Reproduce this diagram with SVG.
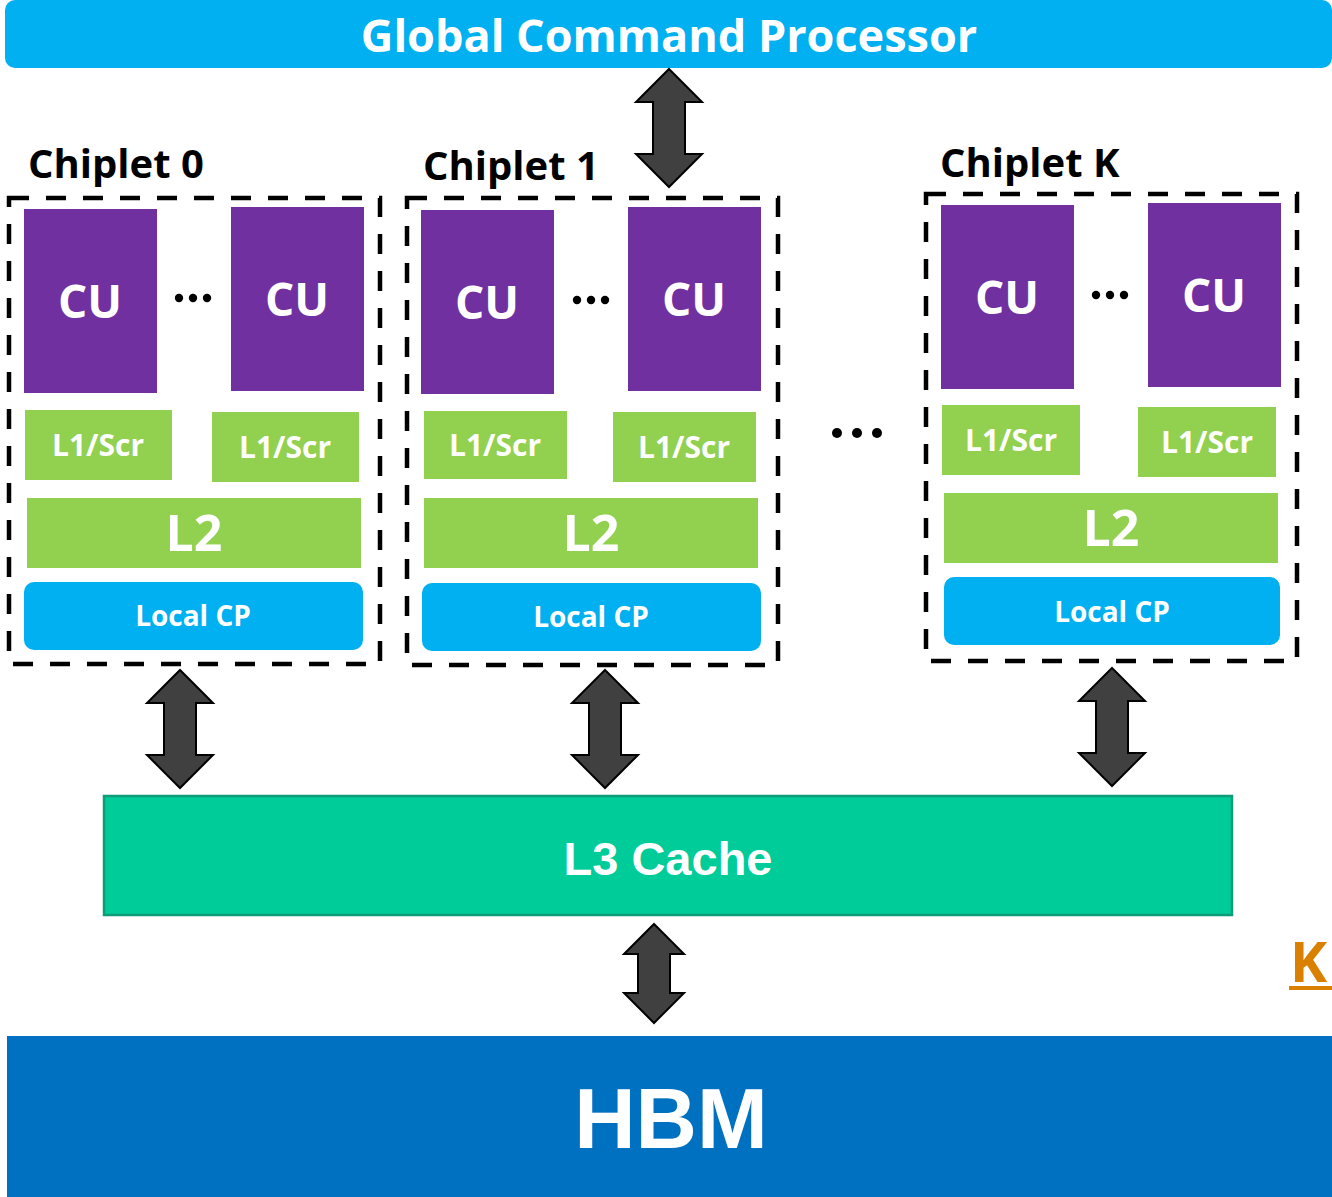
<svg xmlns="http://www.w3.org/2000/svg" width="1332" height="1197" viewBox="0 0 1332 1197">
<style>
text{font-family:"Open Sans","Noto Sans","Liberation Sans",sans-serif;font-weight:bold;}
.w{fill:#fff;text-anchor:middle;}
.ar{font-family:"Liberation Sans",Arial,sans-serif;}
.cu{fill:#7030A0;}
.g{fill:#92D050;}
.cp{fill:#00B0F0;}
.dash{fill:none;stroke:#000;stroke-width:4.5;stroke-dasharray:20 17;}
.arr{fill:#404040;stroke:#000;stroke-width:2;stroke-linejoin:miter;}
.lbl{fill:#000;font-size:40px;}
.cut{font-size:46px;}
.l1t{font-size:30px;}
.l2t{font-size:50px;}
.cpt{font-size:28px;}
</style>
<defs>
<path id="arrow" d="M0,0 L33,33 L16,33 L16,85 L33,85 L0,118 L-33,85 L-16,85 L-16,33 L-33,33 Z"/>
<g id="dots3"><circle cx="0" cy="0" r="4.2"/><circle cx="14" cy="0" r="4.2"/><circle cx="28" cy="0" r="4.2"/></g>
</defs>

<g id="gcp">
<rect x="5" y="0" width="1327" height="68" rx="10" class="cp"/>
<text x="669" y="52" class="w" font-size="45">Global Command Processor</text>
</g>

<g id="chiplet0">
<text x="28" y="178" class="lbl">Chiplet 0</text>
<rect x="9" y="198" width="371" height="466" class="dash"/>
<rect x="24" y="209" width="133" height="184" class="cu"/>
<text x="90" y="318" class="w cut">CU</text>
<use href="#dots3" x="179" y="298"/>
<rect x="231" y="207" width="133" height="184" class="cu"/>
<text x="297" y="316" class="w cut">CU</text>
<rect x="25" y="410" width="147" height="70" class="g"/>
<text x="98" y="456" class="w l1t">L1/Scr</text>
<rect x="212" y="412" width="147" height="70" class="g"/>
<text x="285" y="458" class="w l1t">L1/Scr</text>
<rect x="27" y="498" width="334" height="70" class="g"/>
<text x="194" y="551" class="w l2t">L2</text>
<rect x="24" y="582" width="339" height="68" rx="10" class="cp"/>
<text x="193" y="626" class="w cpt">Local CP</text>
</g>

<g id="chiplet1">
<text x="423" y="180" class="lbl">Chiplet 1</text>
<rect x="407" y="198" width="371" height="467" class="dash"/>
<rect x="421" y="210" width="133" height="184" class="cu"/>
<text x="487" y="319" class="w cut">CU</text>
<use href="#dots3" x="577" y="300"/>
<rect x="628" y="207" width="133" height="184" class="cu"/>
<text x="694" y="316" class="w cut">CU</text>
<rect x="424" y="411" width="143" height="68" class="g"/>
<text x="495" y="456" class="w l1t">L1/Scr</text>
<rect x="613" y="412" width="143" height="70" class="g"/>
<text x="684" y="458" class="w l1t">L1/Scr</text>
<rect x="424" y="498" width="334" height="70" class="g"/>
<text x="591" y="551" class="w l2t">L2</text>
<rect x="422" y="583" width="339" height="68" rx="10" class="cp"/>
<text x="591" y="627" class="w cpt">Local CP</text>
</g>

<g id="chipletK">
<text x="940" y="177" class="lbl">Chiplet K</text>
<rect x="926" y="194" width="371" height="467" class="dash"/>
<rect x="941" y="205" width="133" height="184" class="cu"/>
<text x="1007" y="314" class="w cut">CU</text>
<use href="#dots3" x="1096" y="295"/>
<rect x="1148" y="203" width="133" height="184" class="cu"/>
<text x="1214" y="312" class="w cut">CU</text>
<rect x="942" y="405" width="138" height="70" class="g"/>
<text x="1011" y="451" class="w l1t">L1/Scr</text>
<rect x="1138" y="407" width="138" height="70" class="g"/>
<text x="1207" y="453" class="w l1t">L1/Scr</text>
<rect x="944" y="493" width="334" height="70" class="g"/>
<text x="1111" y="546" class="w l2t">L2</text>
<rect x="944" y="577" width="336" height="68" rx="10" class="cp"/>
<text x="1112" y="622" class="w cpt">Local CP</text>
</g>

<g id="middots">
<circle cx="837" cy="433" r="5"/><circle cx="857" cy="433" r="5"/><circle cx="877" cy="433" r="5"/>
</g>

<g id="l3">
<rect x="104" y="796" width="1128" height="119" fill="#00CC99" stroke="#0E9C78" stroke-width="2.5"/>
<text x="668" y="875" class="w ar" font-size="47">L3 Cache</text>
</g>

<g id="hbm">
<rect x="7" y="1036" width="1325" height="161" fill="#0070C0"/>
<text x="671" y="1148" class="w ar" font-size="85">HBM</text>
</g>

<g id="korange">
<text x="1290" y="982" fill="#D98000" font-size="56" font-family="Liberation Sans,Arial,sans-serif">K</text>
<rect x="1289" y="986" width="43" height="4" fill="#D98000"/>
</g>

<g id="connectors">
<use href="#arrow" x="669" y="69" class="arr"/>
<use href="#arrow" x="180" y="670" class="arr"/>
<use href="#arrow" x="605" y="670" class="arr"/>
<use href="#arrow" x="1112" y="668" class="arr"/>
<path class="arr" d="M654,924 L684,954 L670,954 L670,993 L684,993 L654,1023 L624,993 L638,993 L638,954 L624,954 Z"/>
</g>
</svg>
